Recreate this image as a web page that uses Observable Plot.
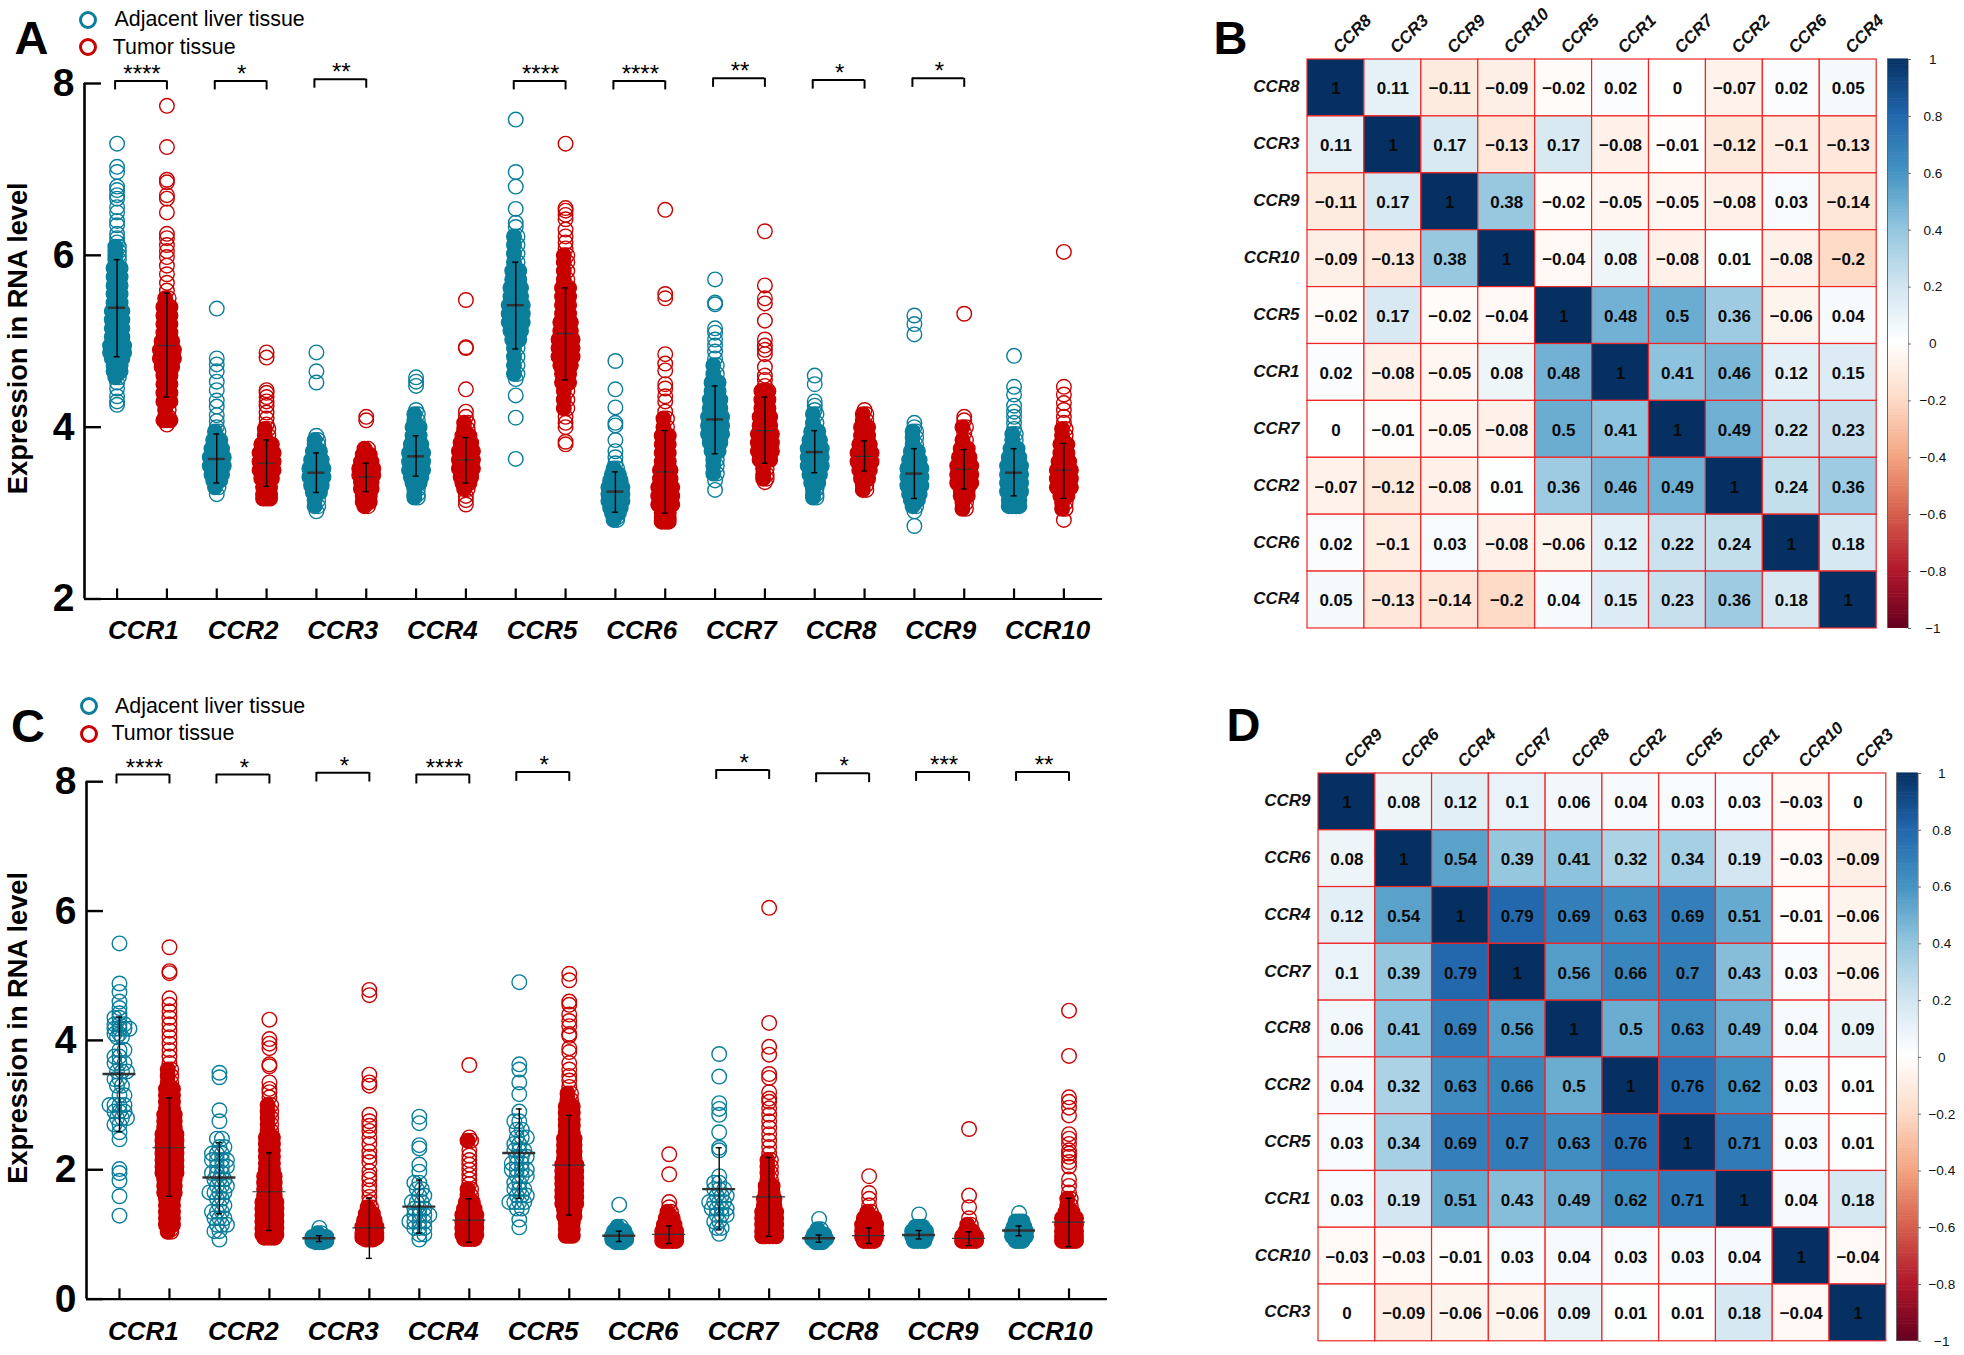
<!DOCTYPE html>
<html><head><meta charset="utf-8">
<script src="https://cdn.jsdelivr.net/npm/d3@7"></script>
<script src="https://cdn.jsdelivr.net/npm/@observablehq/plot@0.6"></script>
<style>
html,body{margin:0;padding:0;background:#fff}
#page{position:relative;width:1964px;height:1355px;overflow:hidden;font-family:"Liberation Sans",Arial,sans-serif;color:#000}
.t{position:absolute;white-space:nowrap;line-height:1}
.c{position:absolute;box-sizing:border-box;border-radius:50%;background:#fff}
svg{position:absolute;overflow:visible}
</style></head><body><div id="page"></div>
<script>
const genes=["CCR1","CCR2","CCR3","CCR4","CCR5","CCR6","CCR7","CCR8","CCR9","CCR10"];
const TEAL="#0a7e9b",RED="#c80000";
// Panel A: value, or [value, dots at this level]; adjacent / tumor per gene
const A_CCR1_adj=[7.3,7.03,6.97,6.8,6.76,6.7,6.66,6.56,6.5,6.4,6.35,6.25,6.2,6.15,[6.1,2],[6.05,2],[6,2],[5.95,2],[5.85,3],[5.75,3],[5.65,3],[5.55,3],[5.45,3],[5.35,4],[5.25,4],[5.15,4],[5.05,4],[4.95,5],[4.87,5],[4.8,4],[4.72,3],[4.65,3],[4.58,2],4.52,4.45,4.36,4.3,4.26];
const A_CCR1_tum=[7.74,7.26,6.88,6.85,6.7,6.66,6.5,6.25,6.2,6.12,6.05,5.98,5.88,5.78,5.68,5.59,[5.5,2],[5.4,3],[5.3,3],[5.2,3],[5.1,3],[5,4],[4.9,5],[4.8,5],[4.7,4],[4.6,3],[4.5,3],[4.4,3],[4.3,3],[4.2,2],[4.12,2],[4.08,3],4.03];
const A_CCR2_adj=[5.38,4.8,4.73,4.65,4.53,4.43,4.31,4.24,4.14,4.07,4,[3.95,2],[3.85,3],[3.75,4],[3.65,5],[3.55,5],[3.45,4],[3.38,3],[3.3,2],3.22];
const A_CCR2_tum=[4.87,4.81,4.43,4.4,4.35,4.3,4.25,4.17,4.1,4.03,[3.98,2],[3.9,2],[3.8,4],[3.7,5],[3.6,5],[3.5,5],[3.4,4],[3.3,3],[3.22,3],[3.17,3]];
const A_CCR3_adj=[4.87,4.65,4.52,3.9,[3.85,2],[3.8,2],[3.72,3],[3.62,4],[3.52,5],[3.42,5],[3.32,4],[3.24,3],[3.15,2],[3.08,2],3.02];
const A_CCR3_tum=[4.12,4.08,[3.75,2],[3.68,3],[3.6,4],[3.52,5],[3.44,5],[3.36,4],[3.28,4],[3.2,3],[3.13,3],[3.08,2]];
const A_CCR4_adj=[4.58,4.53,4.48,4.2,[4.15,2],[4.08,2],[4,3],[3.9,3],[3.8,4],[3.7,5],[3.6,5],[3.5,5],[3.42,4],[3.35,3],[3.28,2],[3.22,2],[3.18,2]];
const A_CCR4_tum=[5.48,4.93,4.92,4.44,4.18,4.12,[4.05,2],[3.98,2],[3.9,3],[3.82,4],[3.72,5],[3.62,5],[3.52,5],[3.42,4],[3.35,3],[3.28,2],3.2,3.15,3.1];
const A_CCR5_adj=[7.58,6.97,6.8,6.54,6.38,6.33,[6.22,2],[6.12,2],[6.02,2],[5.92,2],[5.82,3],[5.72,3],[5.62,4],[5.52,4],[5.42,5],[5.32,5],[5.22,5],[5.12,4],[5.02,3],[4.92,2],[4.82,2],[4.72,2],[4.62,2],4.56,4.37,4.11,3.63];
const A_CCR5_tum=[7.3,6.55,6.52,6.47,6.42,6.3,6.22,6.15,6.08,[6,2],[5.92,2],[5.82,2],[5.72,2],[5.62,3],[5.52,3],[5.42,3],[5.32,3],[5.22,4],[5.12,4],[5.02,5],[4.92,5],[4.82,5],[4.72,4],[4.62,3],[4.52,3],[4.42,2],[4.32,2],[4.22,2],4.12,4.05,4,3.83,3.8];
const A_CCR6_adj=[4.77,4.44,4.23,4.05,4.02,3.85,3.72,3.65,3.58,[3.52,2],[3.45,3],[3.38,4],[3.3,5],[3.22,5],[3.14,5],[3.06,4],[3,3],[2.95,2],[2.92,2]];
const A_CCR6_tum=[6.53,5.55,5.5,4.85,4.74,4.66,4.5,4.45,4.36,4.3,4.18,[4.1,2],[4,2],[3.9,3],[3.8,3],[3.7,3],[3.6,3],[3.5,4],[3.4,4],[3.3,5],[3.2,5],[3.1,5],[3,3],[2.95,3],[2.9,3]];
const A_CCR7_adj=[5.72,5.45,5.43,5.15,5.1,5.02,4.95,4.88,4.8,[4.72,2],[4.62,2],[4.52,3],[4.42,3],[4.32,4],[4.22,4],[4.12,5],[4.02,5],[3.92,5],[3.82,4],[3.72,3],[3.62,2],[3.55,2],[3.46,2],3.38,3.27];
const A_CCR7_tum=[6.28,5.65,5.5,5.44,5.24,5.02,4.95,4.9,4.85,4.7,4.6,4.55,4.48,[4.42,3],[4.32,3],[4.22,3],[4.12,4],[4.02,4],[3.92,5],[3.82,5],[3.72,5],[3.62,4],[3.52,2],[3.45,2],[3.4,2],3.36];
const A_CCR8_adj=[4.6,4.5,4.3,4.25,4.2,[4.15,2],[4.05,2],[3.95,3],[3.85,4],[3.75,5],[3.65,5],[3.55,5],[3.45,4],[3.35,3],[3.28,2],[3.22,2],[3.18,2]];
const A_CCR8_tum=[4.2,[4.15,2],[4.08,2],[4,3],[3.9,3],[3.8,4],[3.7,5],[3.6,5],[3.5,4],[3.4,3],[3.33,2],[3.27,2]];
const A_CCR9_adj=[5.3,5.2,5.08,4.05,4,[3.95,2],[3.88,2],[3.8,2],[3.72,3],[3.62,4],[3.52,5],[3.42,5],[3.32,5],[3.22,4],[3.15,3],[3.08,2],3.02,2.85];
const A_CCR9_tum=[5.32,4.12,4.08,[4,2],3.93,[3.85,2],[3.75,3],[3.65,4],[3.55,5],[3.45,5],[3.35,5],[3.27,3],[3.2,3],[3.12,2],[3.05,2]];
const A_CCR10_adj=[4.83,4.47,4.38,4.25,4.18,4.12,4.05,3.98,[3.92,2],[3.85,2],[3.75,3],[3.65,4],[3.55,5],[3.45,5],[3.35,5],[3.25,5],[3.15,4],[3.08,4]];
const A_CCR10_tum=[6.04,4.47,4.38,4.28,4.2,4.12,4.05,[3.98,2],[3.9,2],[3.8,3],[3.7,3],[3.6,4],[3.5,5],[3.4,5],[3.3,5],[3.2,3],[3.12,2],[3.05,2],2.92];
const A_means=[5.39,4.95,3.63,3.58,3.47,3.42,3.66,3.62,5.42,5.09,3.25,3.48,4.09,3.96,3.71,3.66,3.46,3.51,3.47,3.50];
const A_sdHi=[5.95,5.56,3.92,3.85,3.70,3.58,3.90,3.88,5.92,5.62,3.48,3.96,4.48,4.35,3.96,3.84,3.75,3.74,3.75,3.81];
const A_sdLo=[4.82,4.35,3.35,3.31,3.24,3.25,3.43,3.35,4.91,4.55,3.01,3.00,3.69,3.58,3.47,3.49,3.17,3.28,3.20,3.17];
// Panel C
const C_CCR1_adj=[5.5,4.88,4.75,4.6,4.5,4.42,[4.35,2],[4.25,3],[4.18,4],[4.1,2],[4.05,2],[3.85,2],[3.75,2],[3.65,3],[3.52,3],[3.4,2],[3.3,2],[3.15,2],[3,4],[2.9,3],[2.8,3],[2.7,2],2.58,2.47,2.01,1.95,1.83,1.59,1.29];
const C_CCR1_tum=[5.44,5.07,5.04,4.65,4.55,4.45,4.35,4.25,4.15,4.05,3.95,3.85,3.75,3.65,[3.55,2],[3.45,2],[3.35,2],[3.25,3],[3.15,3],[3.05,3],[2.95,3],[2.85,4],[2.75,4],[2.65,4],[2.55,5],[2.45,5],[2.35,5],[2.25,5],[2.15,5],[2.05,5],[1.95,5],[1.85,4],[1.75,4],[1.65,4],[1.55,3],[1.45,3],[1.35,3],[1.25,3],[1.15,3],[1.08,2],[1.04,2]];
const C_CCR2_adj=[3.5,3.43,2.92,2.75,[2.48,2],[2.35,2],[2.25,3],[2.15,4],[2.05,3],[1.95,3],[1.85,3],[1.75,3],[1.65,4],[1.55,2],[1.45,2],[1.35,3],[1.25,3],[1.15,3],[1.05,2],0.92];
const C_CCR2_tum=[4.32,4.02,3.95,3.88,3.63,3.6,3.35,3.25,3.2,3.12,[3,2],[2.9,2],[2.8,2],[2.7,2],[2.6,2],[2.5,3],[2.4,3],[2.3,3],[2.2,3],[2.1,3],[2,3],[1.9,4],[1.8,4],[1.7,4],[1.6,4],[1.5,5],[1.4,5],[1.3,5],[1.2,5],[1.1,5],[1,5],[0.95,4]];
const C_CCR3_adj=[1.1,[1.02,2],[0.96,5],[0.9,5],[0.88,3]];
const C_CCR3_tum=[4.78,4.7,3.47,3.35,3.3,2.85,2.75,2.68,2.6,2.5,2.4,2.28,2.2,2.12,1.98,1.9,1.85,1.75,1.68,1.58,1.5,[1.42,2],[1.32,3],[1.22,4],[1.12,5],[1.02,5],[0.95,5],[0.92,3]];
const C_CCR4_adj=[2.82,2.72,2.38,2.33,2.08,1.97,[1.8,2],[1.7,2],[1.6,2],[1.5,3],[1.4,3],[1.3,4],[1.2,4],[1.1,3],[1,2],0.92];
const C_CCR4_tum=[3.62,2.5,[2.45,2],2.3,2.22,2.15,2.08,2,1.92,1.85,1.78,[1.7,2],[1.6,2],[1.5,3],[1.4,4],[1.3,5],[1.2,5],[1.1,5],[1,5],[0.93,4]];
const C_CCR5_adj=[4.9,3.63,3.55,3.35,3.17,2.9,[2.75,2],[2.62,2],[2.5,3],[2.4,2],[2.3,3],[2.2,3],[2.1,3],[2,4],[1.9,3],[1.8,2],[1.7,3],[1.6,3],[1.5,4],[1.4,2],1.23,1.11];
const C_CCR5_tum=[5.03,4.93,4.6,4.55,4.4,4.3,4.22,4.1,4.07,3.88,3.82,3.65,3.55,3.45,3.38,3.28,[3.18,2],[3.08,2],[2.98,3],[2.88,3],[2.78,3],[2.68,3],[2.58,3],[2.48,4],[2.38,4],[2.28,4],[2.18,4],[2.08,5],[1.98,5],[1.88,5],[1.78,5],[1.68,5],[1.58,5],[1.48,5],[1.38,4],[1.28,4],[1.18,3],[1.08,3],[0.98,3]];
const C_CCR6_adj=[1.46,[1.12,2],[1.05,4],[0.98,5],[0.92,5],[0.88,3]];
const C_CCR6_tum=[2.24,1.93,1.5,1.42,[1.35,2],[1.25,3],[1.15,4],[1.05,5],[0.97,5],[0.9,5]];
const C_CCR7_adj=[3.79,3.44,3.03,2.94,2.85,2.58,2.34,2.3,1.9,[1.8,2],[1.7,3],[1.6,3],[1.5,4],[1.4,4],[1.3,3],[1.2,2],[1.1,2],1.01];
const C_CCR7_tum=[6.05,4.27,3.9,3.78,3.48,3.42,3.2,3.1,3.05,2.95,2.85,2.75,2.65,2.55,2.45,2.35,2.25,[2.15,2],[2.05,2],[1.95,2],[1.85,2],[1.75,3],[1.65,3],[1.55,4],[1.45,4],[1.35,5],[1.25,5],[1.15,5],[1.05,5],[0.97,5]];
const C_CCR8_adj=[1.24,[1.08,2],[1,4],[0.93,5],[0.88,3]];
const C_CCR8_tum=[1.9,1.64,1.55,1.45,[1.35,2],[1.25,4],[1.15,5],[1.05,5],[0.96,5],[0.9,4]];
const C_CCR9_adj=[1.31,[1.12,3],[1.05,5],[0.97,5],[0.9,4]];
const C_CCR9_tum=[2.63,1.6,1.42,1.25,[1.15,2],[1.05,3],[0.97,5],[0.9,5]];
const C_CCR10_adj=[1.33,[1.2,3],[1.12,4],[1.05,5],[0.97,5],[0.9,3]];
const C_CCR10_tum=[4.46,3.76,3.12,3.05,2.96,2.84,2.55,2.48,2.4,2.3,2.25,2.2,2.12,2.05,1.85,1.75,1.65,[1.55,2],[1.45,2],[1.35,3],[1.25,5],[1.15,5],[1.05,5],[0.97,5],[0.9,5]];
const C_means=[3.48,2.34,1.88,1.66,0.94,1.10,1.43,1.22,2.26,2.07,0.98,1.00,1.70,1.58,0.94,0.98,0.99,0.94,1.06,1.19];
const C_sdHi=[4.36,3.11,2.42,2.26,0.98,1.56,1.84,1.55,2.94,2.84,1.05,1.13,2.34,2.19,0.99,1.10,1.06,1.04,1.13,1.56];
const C_sdLo=[2.59,1.59,1.32,1.06,0.89,0.63,1.02,0.88,1.56,1.30,0.89,0.86,1.07,0.97,0.88,0.86,0.93,0.83,0.98,0.81];
// significance brackets: gene, stars, level
const A_brackets=[["CCR1","****",8.03],["CCR2","*",8.03],["CCR3","**",8.05],["CCR5","****",8.03],["CCR6","****",8.03],["CCR7","**",8.06],["CCR8","*",8.04],["CCR9","*",8.06]];
const C_brackets=[["CCR1","****",8.11],["CCR2","*",8.11],["CCR3","*",8.14],["CCR4","****",8.11],["CCR5","*",8.15],["CCR7","*",8.18],["CCR8","*",8.13],["CCR9","***",8.15],["CCR10","**",8.15]];
// Correlation matrices
const B_order=["CCR8","CCR3","CCR9","CCR10","CCR5","CCR1","CCR7","CCR2","CCR6","CCR4"];
const B_matrix=[
[1,.11,-.11,-.09,-.02,.02,0,-.07,.02,.05],
[.11,1,.17,-.13,.17,-.08,-.01,-.12,-.1,-.13],
[-.11,.17,1,.38,-.02,-.05,-.05,-.08,.03,-.14],
[-.09,-.13,.38,1,-.04,.08,-.08,.01,-.08,-.2],
[-.02,.17,-.02,-.04,1,.48,.5,.36,-.06,.04],
[.02,-.08,-.05,.08,.48,1,.41,.46,.12,.15],
[0,-.01,-.05,-.08,.5,.41,1,.49,.22,.23],
[-.07,-.12,-.08,.01,.36,.46,.49,1,.24,.36],
[.02,-.1,.03,-.08,-.06,.12,.22,.24,1,.18],
[.05,-.13,-.14,-.2,.04,.15,.23,.36,.18,1]];
const D_order=["CCR9","CCR6","CCR4","CCR7","CCR8","CCR2","CCR5","CCR1","CCR10","CCR3"];
const D_matrix=[
[1,.08,.12,.1,.06,.04,.03,.03,-.03,0],
[.08,1,.54,.39,.41,.32,.34,.19,-.03,-.09],
[.12,.54,1,.79,.69,.63,.69,.51,-.01,-.06],
[.1,.39,.79,1,.56,.66,.7,.43,.03,-.06],
[.06,.41,.69,.56,1,.5,.63,.49,.04,.09],
[.04,.32,.63,.66,.5,1,.76,.62,.03,.01],
[.03,.34,.69,.7,.63,.76,1,.71,.03,.01],
[.03,.19,.51,.43,.49,.62,.71,1,.04,.18],
[-.03,-.03,-.01,.03,.04,.03,.03,.04,1,-.04],
[0,-.09,-.06,-.06,.09,.01,.01,.18,-.04,1]];
const colorStops=[-1,-.8,-.6,-.4,-.2,0,.2,.4,.6,.8,1];
const colorRange=["#67001F","#B2182B","#D6604D","#F4A582","#FDDBC7","#FFFFFF","#D1E5F0","#92C5DE","#4393C3","#2166AC","#053061"];
const barTicks=[-1,-.8,-.6,-.4,-.2,0,.2,.4,.6,.8,1];

const FF='"Liberation Sans",Arial,sans-serif';
const page=document.getElementById("page");
const A_series=[A_CCR1_adj,A_CCR1_tum,A_CCR2_adj,A_CCR2_tum,A_CCR3_adj,A_CCR3_tum,A_CCR4_adj,A_CCR4_tum,A_CCR5_adj,A_CCR5_tum,A_CCR6_adj,A_CCR6_tum,A_CCR7_adj,A_CCR7_tum,A_CCR8_adj,A_CCR8_tum,A_CCR9_adj,A_CCR9_tum,A_CCR10_adj,A_CCR10_tum];
const C_series=[C_CCR1_adj,C_CCR1_tum,C_CCR2_adj,C_CCR2_tum,C_CCR3_adj,C_CCR3_tum,C_CCR4_adj,C_CCR4_tum,C_CCR5_adj,C_CCR5_tum,C_CCR6_adj,C_CCR6_tum,C_CCR7_adj,C_CCR7_tum,C_CCR8_adj,C_CCR8_tum,C_CCR9_adj,C_CCR9_tum,C_CCR10_adj,C_CCR10_tum];
const sparseC=new Set([0,2,6,8,12]);

function swarm(series,sparse,pxPerUnit){
  const out=[];
  series.forEach((s,i)=>{
    const isSparse=sparse&&sparse.has(i);
    const step=(isSparse?5:3.5)/pxPerUnit;
    s.forEach((e,r)=>{
      const [v,n]=Array.isArray(e)?e:[e,1];
      const shift=isSparse&&n>=2?[-.5,0,.5][r%3]*step:0;
      for(let k=0;k<n;k++){
        const solid=!isSparse&&(n>=3||(n===2&&k===0));
        out.push({i,v,x:i+shift+(k-(n-1)/2)*step,solid,tumor:i%2===1});
      }
    });
  });
  return out;
}
function swarmPanel(o){
  const pts=swarm(o.series,o.sparse,o.ppu);
  const stats=o.means.map((m,i)=>({i,m,hi:o.hi[i],lo:o.lo[i],tumor:i%2===1}));
  const br=o.brackets.map(([g,s,l])=>({i:genes.indexOf(g)*2,s,l}));
  const idx=d3.range(20);
  const yT=o.yTicks, y0=o.yDomain[0], y1=o.yDomain[1], xL=o.xDomain[0];
  const tickH=o.tickH, drop=o.drop, capW=0.06;
  page.appendChild(Plot.plot({
    width:o.w,height:o.h,marginLeft:o.ml,marginRight:o.mr,marginTop:o.mt,marginBottom:o.mb,
    style:{fontFamily:FF,position:"absolute",left:"0px",top:o.top+"px",background:"transparent",overflow:"visible"},
    x:{domain:o.xDomain,axis:null,round:false},
    y:{domain:o.yDomain,axis:null,round:false},
    marks:[
      Plot.dot(pts.filter(d=>!d.tumor),{x:"x",y:"v",r:7.3,stroke:TEAL,strokeWidth:1.4,fill:"none"}),
      Plot.dot(pts.filter(d=>d.tumor),{x:"x",y:"v",r:7.3,stroke:RED,strokeWidth:1.4,fill:"none"}),
      Plot.dot(pts.filter(d=>d.solid&&!d.tumor),{x:"x",y:"v",r:7.3,fill:TEAL}),
      Plot.dot(pts.filter(d=>d.solid&&d.tumor),{x:"x",y:"v",r:7.3,fill:RED}),
      Plot.ruleY(stats.filter(d=>!d.tumor),{x1:d=>d.i-o.meanW,x2:d=>d.i+o.meanW,y:"m",stroke:"#333",strokeWidth:2.4}),
      Plot.ruleY(stats.filter(d=>d.tumor),{x1:d=>d.i-o.meanW,x2:d=>d.i+o.meanW,y:"m",stroke:"#333",strokeWidth:1.2}),
      Plot.ruleX(stats,{x:"i",y1:"lo",y2:"hi",stroke:"#000",strokeWidth:1.4}),
      Plot.ruleY(stats,{x1:d=>d.i-capW,x2:d=>d.i+capW,y:"hi",stroke:"#000",strokeWidth:1.4}),
      Plot.ruleY(stats,{x1:d=>d.i-capW,x2:d=>d.i+capW,y:"lo",stroke:"#000",strokeWidth:1.4}),
      // brackets
      Plot.ruleY(br,{x1:d=>d.i-o.brL,x2:d=>d.i+1,y:"l",stroke:"#000",strokeWidth:2}),
      Plot.ruleX(br,{x:d=>d.i-o.brL,y1:"l",y2:d=>d.l-drop,stroke:"#000",strokeWidth:2}),
      Plot.ruleX(br,{x:d=>d.i+1,y1:"l",y2:d=>d.l-drop,stroke:"#000",strokeWidth:2}),
      Plot.text(br,{x:d=>d.i+.5,y:"l",text:"s",fontSize:24,fill:"#000",dy:o.starDy,lineAnchor:"bottom",fontFamily:FF}),
      // axes
      Plot.ruleX([xL],{y1:y0,y2:y1,stroke:"#000",strokeWidth:2.6}),
      Plot.ruleY([y0],{x1:xL,x2:o.xDomain[1],stroke:"#000",strokeWidth:2.2}),
      Plot.ruleY(yT,{x1:xL,x2:xL+o.yTickLen,stroke:"#000",strokeWidth:2.4}),
      Plot.ruleX(idx,{y1:y0,y2:y0+tickH,stroke:"#000",strokeWidth:2.2}),
      Plot.axisY({ticks:yT,tickSize:0,tickPadding:o.yPad,fontSize:39,fontWeight:"bold",fill:"#000",stroke:"#000",strokeWidth:.5,label:null,tickFormat:d=>d}),
      Plot.axisX({ticks:genes.map((g,k)=>k*2+.5),tickFormat:d=>genes[(d-.5)/2],tickSize:0,tickPadding:22,fontSize:26,fontWeight:"bold",fontStyle:"italic",fill:"#000",label:null,textAnchor:"start",dx:o.gDx}),
      Plot.text(["Expression in RNA level"],{frameAnchor:"left",rotate:-90,textAnchor:"middle",dx:o.labelDx,dy:o.labelDy,fontSize:o.labelFs,fontWeight:"bold",fill:"#000",fontFamily:FF})
    ]
  }));
}
swarmPanel({series:A_series,means:A_means,hi:A_sdHi,lo:A_sdLo,brackets:A_brackets,
  w:1130,h:660,ml:84,mr:28,mt:83,mb:61.5,top:0,xDomain:[-.654,19.775],yDomain:[2,8],yTicks:[2,4,6,8],ppu:49.83,
  meanW:.17,tickH:.117,drop:.105,brL:.04,yTickLen:.34,yPad:10,starDy:1,gDx:-34,labelDx:-66,labelDy:-3,labelFs:27.2});
swarmPanel({series:C_series,sparse:sparseC,means:C_means,hi:C_sdHi,lo:C_sdLo,brackets:C_brackets,
  w:1135,h:675,ml:86,mr:28,mt:101.2,mb:56.4,top:680,xDomain:[-.66,19.77],yDomain:[0,8],yTicks:[0,2,4,6,8],ppu:50,
  meanW:.33,tickH:.158,drop:.145,brL:.06,yTickLen:.34,yPad:10,starDy:1,gDx:-36.5,labelDx:-68,labelDy:-12.5,labelFs:27.2});

function heat(o){
  const flat=[];
  o.matrix.forEach((r,ri)=>r.forEach((v,ci)=>flat.push({row:o.order[ri],col:o.order[ci],v})));
  const fmt=d3.format("");
  const top=o.y0-o.mt, left=o.x0-o.ml, W=o.ml+(o.x1-o.x0)+o.mr, H=o.mt+(o.y1-o.y0)+o.mb;
  page.appendChild(Plot.plot({
    width:W,height:H,marginLeft:o.ml,marginRight:o.mr,marginTop:o.mt,marginBottom:o.mb,
    style:{fontFamily:FF,position:"absolute",left:left+"px",top:top+"px",background:"transparent",overflow:"visible"},
    x:{domain:o.order,padding:0,round:false,axis:null},
    y:{domain:o.order,padding:0,round:false,axis:null},
    color:{type:"linear",domain:colorStops,range:colorRange},
    marks:[
      Plot.cell(flat,{x:"col",y:"row",fill:"v",stroke:"#f02525",strokeWidth:1.2}),
      Plot.text(flat,{x:"col",y:"row",text:d=>fmt(d.v),fontSize:17,fontWeight:"bold",fill:"#0a0a0a",dy:1}),
      Plot.axisY({tickSize:0,tickPadding:8,fontSize:17,fontWeight:"bold",fontStyle:"italic",fill:"#111",label:null,dy:-1}),
      Plot.axisX({anchor:"top",tickSize:0,tickPadding:9,tickRotate:-45,fontSize:17,fontWeight:"bold",fontStyle:"italic",fill:"#111",label:null,textAnchor:"start"})
    ]
  }));
  // colour bar
  const bands=d3.range(-1,1,.01);
  page.appendChild(Plot.plot({
    width:120,height:o.y1-o.y0+o.mt+o.mb,marginLeft:10,marginRight:120-10-(o.bar1-o.bar0),marginTop:o.mt,marginBottom:o.mb,
    style:{fontFamily:FF,position:"absolute",left:(o.bar0-10)+"px",top:top+"px",background:"transparent",overflow:"visible"},
    x:{domain:[0,1],axis:null,round:false},
    y:{domain:[-1,1],axis:null,round:false},
    color:{type:"linear",domain:colorStops,range:colorRange},
    marks:[
      Plot.rect(bands,{x1:()=>0,x2:()=>1,y1:d=>d,y2:d=>d+.012,fill:d=>d}),
      Plot.ruleX([0],{y1:-1,y2:1,stroke:"#666",strokeWidth:1}),
      Plot.ruleY(barTicks,{x1:1,x2:1.14,stroke:"#666",strokeWidth:1}),
      Plot.ruleX([1],{y1:-1,y2:1,stroke:"#666",strokeWidth:.6}),
      Plot.axisY({anchor:"right",ticks:barTicks,tickSize:0,tickPadding:o.barPad,fontSize:13.6,fill:"#111",label:null,textAnchor:"middle",tickFormat:d3.format("")})
    ]
  }));
}
heat({matrix:B_matrix,order:B_order,x0:1307.2,x1:1876.4,y0:59,y1:628,ml:90,mr:6,mt:55,mb:12,bar0:1886.6,bar1:1907.6,barPad:24.4});
heat({matrix:D_matrix,order:D_order,x0:1318.4,x1:1886.2,y0:772.7,y1:1340.5,ml:90,mr:6,mt:60,mb:12,bar0:1896.4,bar1:1918.3,barPad:23.4});

// panel letters and legends
function txt(s,x,base,fs,w){const d=document.createElement("div");d.className="t";d.textContent=s;
  d.style.cssText=`left:${x}px;top:${base-.83*fs}px;font-size:${fs}px;font-weight:${w||"normal"}`;page.appendChild(d);}
function ring(cx,cy,c){const d=document.createElement("div");d.className="c";
  d.style.cssText=`left:${cx-9}px;top:${cy-9}px;width:18px;height:18px;border:3.6px solid ${c}`;page.appendChild(d);}
txt("A",14.5,52.6,47,"bold");txt("B",1213.5,52.6,47,"bold");txt("C",11,741,47,"bold");txt("D",1226.5,740,47,"bold");
ring(88.4,19.8,TEAL);ring(88.4,47,RED);ring(89.2,705.8,TEAL);ring(89.2,733.8,RED);
txt("Adjacent liver tissue",114.5,27,21.4);txt("Tumor tissue",112.8,54.7,21.4);
txt("Adjacent liver tissue",115,713.6,21.4);txt("Tumor tissue",111.5,741,21.4);
</script></body></html>
